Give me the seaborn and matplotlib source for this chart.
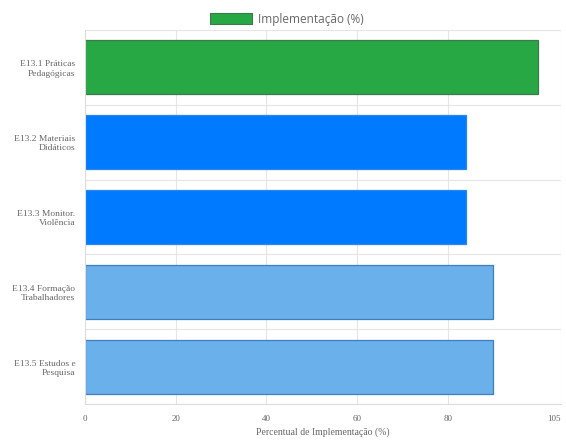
import numpy as np
import pandas as pd
import matplotlib
matplotlib.use("Agg")
import matplotlib.pyplot as plt
import seaborn as sns
from matplotlib.patches import Patch

categories = ["E13.1 Práticas\nPedagógicas", "E13.2 Materiais\nDidáticos", "E13.3 Monitor.\nViolência",
              "E13.4 Formação\nTrabalhadores", "E13.5 Estudos e\nPesquisa"]
values = [100, 84, 84, 90, 90]
bar_colors = ["#28a745", "#007bff", "#007bff", "#6ab0eb", "#6ab0eb"]
edge_colors = ["#3c7a4e", "#2a85ee", "#2a85ee", "#3f7fbd", "#3f7fbd"]
x_ticks = [0, 20, 40, 60, 80, 105]
legend_label = "Implementação (%)"
x_title = "Percentual de Implementação (%)"

sns.set_style("white")
plt.rcParams['font.family'] = ['Liberation Serif', 'DejaVu Serif']

df = pd.DataFrame({"cat": categories, "val": values})

fig = plt.figure(figsize=(5.66, 4.40), dpi=100)
ax = fig.add_axes([85 / 566, 36 / 440, 476 / 566, 374 / 440])

sns.barplot(data=df, x="val", y="cat", hue="cat", palette=bar_colors, legend=False,
            width=0.72, orient="h", ax=ax, saturation=1)
for patch, ec in zip(ax.patches, edge_colors):
    patch.set_edgecolor(ec)
    patch.set_linewidth(0.9)

ax.set_xlim(0, 105)
ax.set_ylim(len(categories) - 0.5, -0.5)
ax.set_xticks(x_ticks)
ax.set_xticklabels([str(t) for t in x_ticks], fontsize=6.5, color="#666666")
ax.set_yticks(range(len(categories)))
ax.set_yticklabels(categories, fontsize=6.8, color="#666666", multialignment="right")
ax.set_yticks(np.arange(-0.5, len(categories), 1), minor=True)

# keep the last x tick label inside the figure
ax.get_xticklabels()[-1].set_horizontalalignment("right")

ax.tick_params(axis="y", which="major", length=0, pad=7)
ax.tick_params(axis="y", which="minor", length=10, color="#e5e5e5", width=0.8)
ax.tick_params(axis="x", which="major", length=6, color="#e5e5e5", width=0.8, pad=2)

ax.grid(True, axis="x", which="major", color="#e5e5e5", linewidth=0.8)
ax.grid(True, axis="y", which="minor", color="#e5e5e5", linewidth=0.8)
ax.set_axisbelow(True)
for side in ["top", "right"]:
    ax.spines[side].set_visible(False)
ax.spines["left"].set_color("#dcdcdc")
ax.spines["bottom"].set_color("#dcdcdc")
ax.spines["left"].set_linewidth(0.8)
ax.spines["bottom"].set_linewidth(0.8)

ax.set_ylabel("")
ax.set_xlabel(x_title, fontsize=7, color="#666666", labelpad=3)

handles = [Patch(facecolor="#28a745", edgecolor="#3c7a4e", linewidth=0.8, label=legend_label)]
fig.legend(handles=handles, loc="center", bbox_to_anchor=(287 / 566, 1 - 19 / 440), frameon=False,
           prop={"family": "Open Sans", "size": 8.5}, labelcolor="#666666",
           handlelength=3.6, handleheight=1.0, handletextpad=0.5)

fig.savefig("out.png", dpi=100)
